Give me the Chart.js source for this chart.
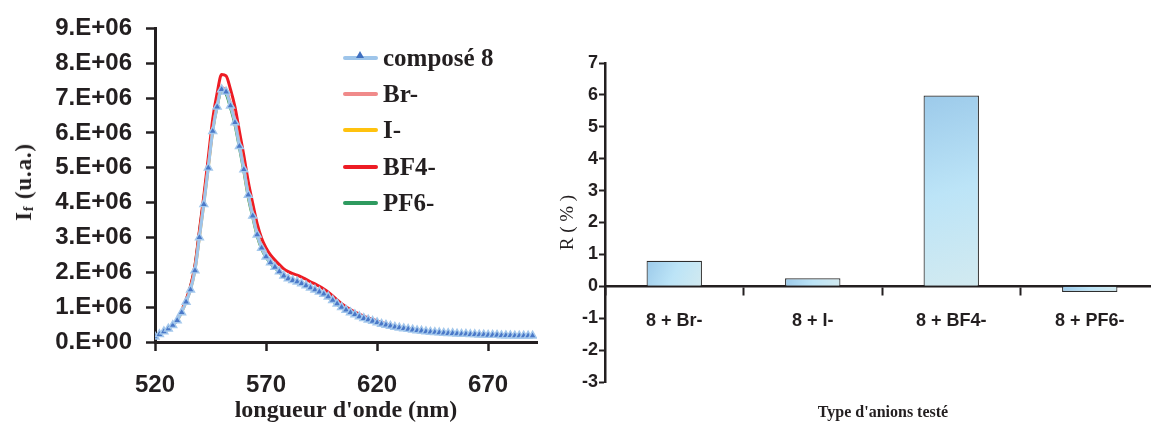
<!DOCTYPE html>
<html>
<head>
<meta charset="utf-8">
<script src="https://cdn.jsdelivr.net/npm/chart.js@4.4.1/dist/chart.umd.min.js"></script>
<style>
  html, body { margin: 0; padding: 0; background: #fff; }
  body { width: 1151px; height: 425px; overflow: hidden; position: relative; }
  .abs { position: absolute; }
  #ytitle { left: 24px; top: 182px; transform: translate(-50%, -50%) rotate(-90deg); white-space: nowrap;
            font: bold 23px 'Liberation Serif', 'Times New Roman', serif; color: #231f20; letter-spacing: 0.8px; }
  #ytitle sub { font-size: 14px; vertical-align: -2px; }
  .leg { position: absolute; left: 343px; height: 30px; display: flex; align-items: center;
         font: bold 25px 'Liberation Serif', 'Times New Roman', serif; color: #231f20; white-space: nowrap; }
  .sw { position: relative; width: 35px; height: 4px; border-radius: 2px; margin-right: 5px; }
  .tri { position: absolute; left: 13px; top: -5px; width: 0; height: 0;
         border-left: 4px solid transparent; border-right: 4px solid transparent; border-bottom: 7px solid #3f6fc0; }
  #xtitleR { left: 883px; top: 412px; transform: translate(-50%, -50%); white-space: nowrap;
             font: bold 16px 'Liberation Serif', 'Times New Roman', serif; color: #231f20; }
</style>
</head>
<body>
<div class="abs" style="left:0;top:0;width:560px;height:425px;"><canvas id="c1" width="560" height="425"></canvas></div>
<div class="abs" style="left:555px;top:0;width:610px;height:425px;"><canvas id="c2" width="610" height="425"></canvas></div>

<div id="ytitle" class="abs">I<sub>f</sub> (u.a.)</div>
<div id="legend"></div>
<div id="xtitleR" class="abs">Type d'anions testé</div>

<script>
// ---------------- Left chart data (intensity in units of 1e6 u.a.) ----------------
const SCALE = 1e6;
const wavelengths = [
  520,522,524,526,528,530,532,534,536,538,
  540,542,544,546,548,550,552,554,556,558,
  560,562,564,566,568,570,572,574,576,578,
  580,582,584,586,588,590,592,594,596,598,
  600,602,604,606,608,610,612,614,616,618,
  620,622,624,626,628,630,632,634,636,638,
  640,642,644,646,648,650,652,654,656,658,
  660,662,664,666,668,670,672,674,676,678,
  680,682,684,686,688,690
];
const compose8 = [
  0.15,0.22,0.30,0.38,0.48,0.62,0.85,1.15,1.50,2.05,
  3.00,3.95,5.00,6.05,6.75,7.25,7.18,6.78,6.30,5.62,
  4.95,4.22,3.62,3.08,2.70,2.45,2.28,2.15,2.02,1.90,
  1.82,1.77,1.73,1.68,1.62,1.56,1.50,1.44,1.38,1.30,
  1.20,1.10,1.00,0.92,0.85,0.79,0.73,0.68,0.64,0.60,
  0.56,0.52,0.49,0.46,0.43,0.41,0.39,0.37,0.35,0.33,
  0.32,0.30,0.29,0.28,0.27,0.26,0.25,0.25,0.24,0.23,
  0.23,0.22,0.22,0.21,0.21,0.20,0.20,0.20,0.19,0.19,
  0.19,0.18,0.18,0.18,0.18,0.18
];
const brMinus = [
  0.15,0.22,0.30,0.39,0.49,0.63,0.87,1.17,1.53,2.10,
  3.06,4.02,5.06,6.10,6.82,7.30,7.22,6.85,6.36,5.70,
  5.00,4.25,3.67,3.12,2.74,2.48,2.31,2.18,2.05,1.93,
  1.85,1.79,1.75,1.70,1.64,1.58,1.52,1.46,1.40,1.32,
  1.22,1.12,1.02,0.93,0.86,0.80,0.74,0.69,0.65,0.61,
  0.57,0.53,0.50,0.47,0.44,0.41,0.39,0.37,0.35,0.33,
  0.32,0.30,0.29,0.28,0.27,0.26,0.25,0.25,0.24,0.23,
  0.23,0.22,0.22,0.21,0.21,0.20,0.20,0.20,0.19,0.19,
  0.19,0.18,0.18,0.18,0.18,0.18
];
const iMinus = [
  0.15,0.22,0.30,0.38,0.48,0.62,0.86,1.16,1.51,2.07,
  3.02,3.98,5.02,6.07,6.77,7.26,7.19,6.80,6.32,5.66,
  4.97,4.23,3.64,3.10,2.71,2.46,2.29,2.16,2.03,1.91,
  1.83,1.78,1.74,1.69,1.63,1.57,1.51,1.45,1.39,1.31,
  1.20,1.10,1.00,0.92,0.85,0.79,0.73,0.68,0.64,0.60,
  0.56,0.52,0.49,0.46,0.43,0.41,0.39,0.37,0.35,0.33,
  0.32,0.30,0.29,0.28,0.27,0.26,0.25,0.25,0.24,0.23,
  0.23,0.22,0.22,0.21,0.21,0.20,0.20,0.20,0.19,0.19,
  0.19,0.18,0.18,0.18,0.18,0.18
];
const bf4Minus = [
  0.15,0.22,0.30,0.39,0.50,0.65,0.90,1.22,1.60,2.20,
  3.20,4.20,5.30,6.40,7.15,7.68,7.64,7.25,6.75,6.05,
  5.35,4.60,3.98,3.40,2.98,2.70,2.50,2.35,2.22,2.10,
  2.02,1.96,1.92,1.86,1.80,1.73,1.67,1.60,1.52,1.43,
  1.32,1.21,1.10,1.01,0.93,0.86,0.80,0.74,0.69,0.65,
  0.60,0.56,0.52,0.49,0.46,0.43,0.41,0.39,0.37,0.35,
  0.33,0.31,0.30,0.29,0.28,0.27,0.26,0.26,0.25,0.24,
  0.24,0.23,0.23,0.22,0.22,0.21,0.21,0.21,0.20,0.20,
  0.20,0.19,0.19,0.19,0.19,0.19
];
const pf6Minus = [
  0.15,0.22,0.31,0.39,0.50,0.65,0.89,1.20,1.58,2.18,
  3.15,4.12,5.12,6.12,6.78,7.22,7.12,6.72,6.24,5.58,
  4.90,4.15,3.58,3.05,2.67,2.43,2.26,2.13,2.00,1.88,
  1.80,1.75,1.71,1.66,1.60,1.54,1.48,1.42,1.36,1.28,
  1.18,1.08,0.99,0.91,0.84,0.78,0.72,0.67,0.63,0.59,
  0.55,0.51,0.48,0.45,0.42,0.40,0.38,0.36,0.34,0.33,
  0.32,0.30,0.29,0.28,0.27,0.26,0.25,0.25,0.24,0.23,
  0.23,0.22,0.22,0.21,0.21,0.20,0.20,0.20,0.19,0.19,
  0.19,0.18,0.18,0.18,0.18,0.18
];
const seriesNames = ['composé 8', 'Br-', 'I-', 'BF4-', 'PF6-'];
const seriesColors = ['#9ec5ea', '#f08a8a', '#ffc20e', '#ed1c24', '#2e9a5f'];
const xTickValues = [520, 570, 620, 670];
const yTickValues = [0,1e6,2e6,3e6,4e6,5e6,6e6,7e6,8e6,9e6];
const yTickLabels = ['0.E+00','1.E+06','2.E+06','3.E+06','4.E+06','5.E+06','6.E+06','7.E+06','8.E+06','9.E+06'];

// ---------------- Right chart data ----------------
const anionCategories = ['8 + Br-', '8 + I-', '8 + BF4-', '8 + PF6-'];
const rPercent = [0.80, 0.25, 5.98, -0.18];

// ---------------- Build left chart ----------------
const INK = '#231f20';
const toPoints = (arr) => arr.map((v, i) => ({ x: wavelengths[i], y: v * SCALE }));
const seriesData = [compose8, brMinus, iMinus, bf4Minus, pf6Minus];

const datasets = seriesData.map((arr, k) => {
  const ds = {
    label: seriesNames[k],
    data: toPoints(arr),
    borderColor: seriesColors[k],
    backgroundColor: seriesColors[k],
    borderWidth: 3,
    pointRadius: 0,
    cubicInterpolationMode: 'monotone',
    order: k
  };
  if (k === 0) {
    ds.pointStyle = 'triangle';
    ds.pointRadius = 4.6;
    ds.pointBackgroundColor = '#4a78c8';
    ds.pointBorderColor = '#a4c8ec';
    ds.pointBorderWidth = 1.4;
  }
  return ds;
});

new Chart(document.getElementById('c1'), {
  type: 'line',
  data: { datasets },
  options: {
    responsive: false,
    animation: false,
    layout: { padding: { left: 0, top: 23, right: 23, bottom: 0 } },
    plugins: { legend: { display: false }, tooltip: { enabled: false } },
    scales: {
      x: {
        type: 'linear', min: 520, max: 692,
        afterBuildTicks: (s) => { s.ticks = xTickValues.map(v => ({ value: v })); },
        afterFit: (s) => { s.height = 83; },
        ticks: { font: { family: "'Liberation Sans', Arial, sans-serif", weight: 'bold', size: 24 },
                 color: INK, padding: 20, maxRotation: 0, autoSkip: false },
        grid: { drawOnChartArea: false, drawTicks: true, tickLength: 9, tickWidth: 2.5, tickColor: INK },
        border: { display: true, width: 3, color: INK },
        title: { display: true, text: "longueur d'onde (nm)", color: INK,
                 font: { family: "'Liberation Serif', 'Times New Roman', serif", weight: 'bold', size: 24 },
                 padding: { top: 0, bottom: 0 } }
      },
      y: {
        min: 0, max: 9e6,
        afterBuildTicks: (s) => { s.ticks = yTickValues.map(v => ({ value: v })); },
        afterFit: (s) => { s.width = 155; },
        ticks: { font: { family: "'Liberation Sans', Arial, sans-serif", weight: 'bold', size: 24 },
                 color: INK, padding: 14, callback: (v, i) => yTickLabels[i] },
        grid: { drawOnChartArea: false, drawTicks: true, tickLength: 9, tickWidth: 2.5, tickColor: INK },
        border: { display: true, width: 3, color: INK }
      }
    }
  }
});

// ---------------- HTML legend (inside plot area) ----------------
const legendCenters = [58, 94, 130, 167, 203];
const legendEl = document.getElementById('legend');
seriesNames.forEach((name, k) => {
  const row = document.createElement('div');
  row.className = 'leg';
  row.style.top = (legendCenters[k] - 15) + 'px';
  const sw = document.createElement('span');
  sw.className = 'sw';
  sw.style.background = seriesColors[k];
  if (k === 0) { const t = document.createElement('span'); t.className = 'tri'; sw.appendChild(t); }
  row.appendChild(sw);
  const tx = document.createElement('span');
  tx.textContent = name;
  row.appendChild(tx);
  legendEl.appendChild(row);
});

// ---------------- Build right chart ----------------
function barGradient(ctx) {
  const chart = ctx.chart;
  const area = chart.chartArea;
  if (!area) return '#b7ddf2';
  const xs = chart.scales.x, ys = chart.scales.y;
  const xc = xs.getPixelForValue(ctx.dataIndex);
  const half = xs.width / anionCategories.length * 0.2;
  const y0 = ys.getPixelForValue(0), y1 = ys.getPixelForValue(ctx.raw);
  const g = chart.ctx.createLinearGradient(xc - half, Math.min(y0, y1), xc + half, Math.max(y0, y1));
  g.addColorStop(0, '#9ccaea');
  g.addColorStop(0.5, '#bce4f7');
  g.addColorStop(1, '#d2eaf0');
  return g;
}

new Chart(document.getElementById('c2'), {
  type: 'bar',
  data: {
    labels: anionCategories,
    datasets: [{
      label: 'R (%)',
      data: rPercent,
      backgroundColor: barGradient,
      borderColor: '#2e2e2e',
      borderWidth: 1.2,
      barPercentage: 0.4,
      categoryPercentage: 1.0
    }]
  },
  options: {
    responsive: false,
    animation: false,
    layout: { padding: { left: 0, top: 63, right: 6, bottom: 43 } },
    plugins: { legend: { display: false }, tooltip: { enabled: false } },
    scales: {
      x: {
        type: 'category',
        position: { y: 0 },
        offset: true,
        ticks: { font: { family: "'Liberation Sans', Arial, sans-serif", weight: 'bold', size: 18 },
                 color: INK, padding: 16, maxRotation: 0, autoSkip: false },
        grid: { offset: true, drawOnChartArea: false, drawTicks: true, tickLength: 8, tickWidth: 2, tickColor: INK },
        border: { display: true, width: 2.5, color: INK }
      },
      y: {
        min: -3, max: 7,
        afterFit: (s) => { s.width = 50; },
        ticks: { stepSize: 1, font: { family: "'Liberation Sans', Arial, sans-serif", weight: 'bold', size: 18 },
                 color: INK, padding: 1 },
        grid: { drawOnChartArea: false, drawTicks: true, tickLength: 6, tickWidth: 2, tickColor: INK },
        border: { display: true, width: 2.5, color: INK },
        title: { display: true, text: 'R ( % )', color: INK,
                 font: { family: "'Liberation Serif', 'Times New Roman', serif", size: 19 },
                 padding: { top: 2, bottom: 0 } }
      }
    }
  }
});
</script>
</body>
</html>
